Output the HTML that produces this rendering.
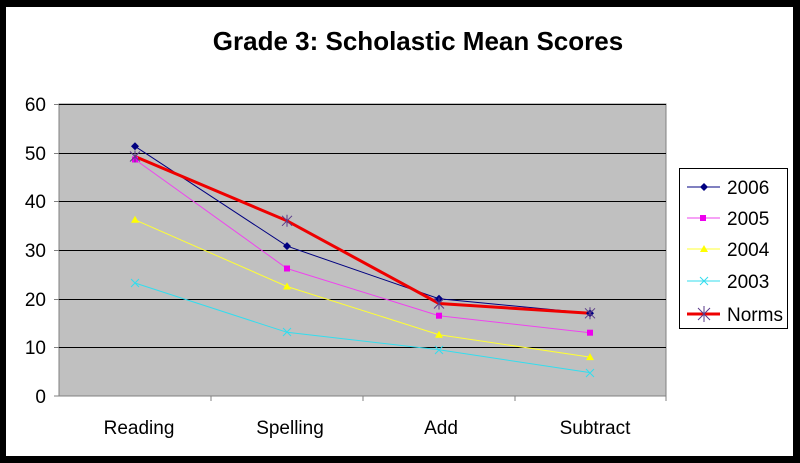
<!DOCTYPE html>
<html><head><style>
body{margin:0;background:#000;}
svg{display:block;font-family:"Liberation Sans",Arial,sans-serif;}
</style></head><body>
<svg width="800" height="463" viewBox="0 0 800 463">
<rect x="0" y="0" width="800" height="463" fill="#000"/>
<rect x="6" y="7" width="787" height="449" fill="#fff"/>
<text x="418" y="50" font-size="26" font-weight="bold" text-anchor="middle">Grade 3: Scholastic Mean Scores</text>
<rect x="59" y="104" width="607" height="292" fill="#c0c0c0" stroke="#808080"/>
<g stroke="#000" stroke-width="1">
<line x1="59" y1="104.5" x2="666" y2="104.5"/>
<line x1="59" y1="153.5" x2="666" y2="153.5"/>
<line x1="59" y1="201.5" x2="666" y2="201.5"/>
<line x1="59" y1="250.5" x2="666" y2="250.5"/>
<line x1="59" y1="299.5" x2="666" y2="299.5"/>
<line x1="59" y1="347.5" x2="666" y2="347.5"/>
</g>
<g stroke="#808080">
<line x1="59" y1="396" x2="666" y2="396"/>
<line x1="54" y1="104.5" x2="59" y2="104.5"/><line x1="54" y1="153.5" x2="59" y2="153.5"/><line x1="54" y1="201.5" x2="59" y2="201.5"/><line x1="54" y1="250.5" x2="59" y2="250.5"/><line x1="54" y1="299.5" x2="59" y2="299.5"/><line x1="54" y1="347.5" x2="59" y2="347.5"/><line x1="54" y1="396" x2="59" y2="396"/>
<line x1="211" y1="396" x2="211" y2="401"/><line x1="363" y1="396" x2="363" y2="401"/><line x1="515" y1="396" x2="515" y2="401"/><line x1="666" y1="396" x2="666" y2="401"/>
</g>
<g font-size="19" text-anchor="end">
<text x="46" y="111">60</text><text x="46" y="160">50</text><text x="46" y="208">40</text><text x="46" y="257">30</text><text x="46" y="306">20</text><text x="46" y="354">10</text><text x="46" y="403">0</text>
</g>
<g font-size="19" text-anchor="middle">
<text x="139" y="434">Reading</text><text x="290" y="434">Spelling</text><text x="441" y="434">Add</text><text x="595" y="434">Subtract</text>
</g>
<polyline points="135,283 287,332.3 439,349.8 590,372.6" fill="none" stroke="#33ddee" stroke-width="1"/>
<polyline points="135,219.8 287,286.5 439,334.7 590,357.1" fill="none" stroke="#ffff33" stroke-width="1"/>
<polyline points="135,159.5 287,268.5 439,315.7 590,332.7" fill="none" stroke="#ee44ee" stroke-width="1"/>
<polyline points="135,146.3 287,246.1 439,298.7 590,313.3" fill="none" stroke="#000080" stroke-width="1"/>
<polyline points="135,156.5 287,220.8 439,303.5 590,313.3" fill="none" stroke="#ee0000" stroke-width="3"/>
<g fill="#ee00ee"><rect x="132" y="156.5" width="6" height="6"/><rect x="284" y="265.5" width="6" height="6"/><rect x="436" y="312.7" width="6" height="6"/><rect x="587" y="329.7" width="6" height="6"/></g>
<g fill="#ffff00"><path d="M135,215.8l4,7h-8z"/><path d="M287,282.5l4,7h-8z"/><path d="M439,330.7l4,7h-8z"/><path d="M590,353.1l4,7h-8z"/></g>
<g stroke="#33ddee"><path d="M131,279l8,8M139,279l-8,8M283,328l8,8M291,328l-8,8M435,346l8,8M443,346l-8,8M586,369l8,8M594,369l-8,8"/></g>
<g fill="#000080"><path d="M135,142.3l4,4l-4,4l-4,-4z"/><path d="M287,242.1l4,4l-4,4l-4,-4z"/><path d="M439,294.7l4,4l-4,4l-4,-4z"/><path d="M590,309.3l4,4l-4,4l-4,-4z"/></g>
<g stroke="#5a3a8a" stroke-width="1"><path d="M130,151.5l10,10M140,151.5l-10,10M135,150.5v12M282,215.8l10,10M292,215.8l-10,10M287,214.8v12M434,298.5l10,10M444,298.5l-10,10M439,297.5v12M585,308.3l10,10M595,308.3l-10,10M590,307.3v12"/></g>
<rect x="679.5" y="168.5" width="108" height="160" fill="#fff" stroke="#000"/>
<g font-size="19">
<line x1="687" y1="187" x2="720" y2="187" stroke="#000080"/><path d="M704,183l4,4l-4,4l-4,-4z" fill="#000080"/><text x="727" y="194">2006</text>
<line x1="687" y1="218" x2="720" y2="218" stroke="#ee44ee"/><rect x="700" y="215" width="6" height="6" fill="#ee00ee"/><text x="727" y="225">2005</text>
<line x1="687" y1="249" x2="720" y2="249" stroke="#ffff33"/><path d="M704,245l4,7h-8z" fill="#ffff00"/><text x="727" y="256">2004</text>
<line x1="687" y1="281" x2="720" y2="281" stroke="#33ddee"/><path d="M700,277l8,8M708,277l-8,8" stroke="#33ddee"/><text x="727" y="288">2003</text>
<line x1="687" y1="314" x2="720" y2="314" stroke="#ee0000" stroke-width="3"/><path d="M698,308l12,12M710,308l-12,12M704,306v16" stroke="#5a3a8a"/><text x="727" y="321">Norms</text>
</g>
</svg>
</body></html>
